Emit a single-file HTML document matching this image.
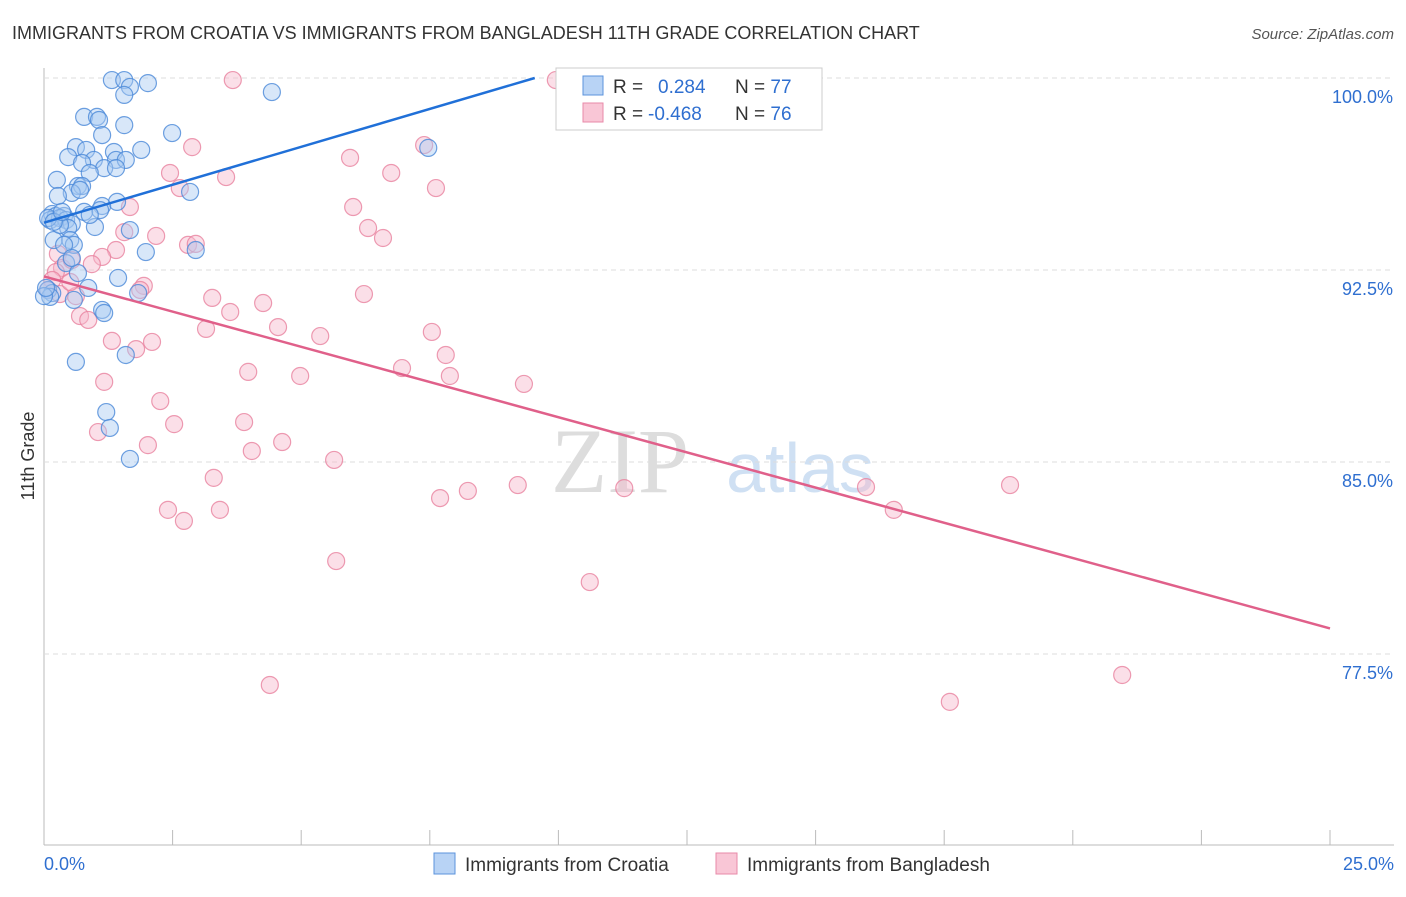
<!DOCTYPE html>
<html><head><meta charset="utf-8"><style>
body{margin:0;background:#fff;font-family:"Liberation Sans",sans-serif}
</style></head><body>
<svg id="c" width="1406" height="892" xmlns="http://www.w3.org/2000/svg" font-family="Liberation Sans, sans-serif">
<text x="12" y="39" font-size="18" fill="#333">IMMIGRANTS FROM CROATIA VS IMMIGRANTS FROM BANGLADESH 11TH GRADE CORRELATION CHART</text>
<text x="1394" y="39" font-size="15" fill="#555" font-style="italic" text-anchor="end">Source: ZipAtlas.com</text>
<text x="34" y="456" font-size="18" fill="#333" transform="rotate(-90 34 456)" text-anchor="middle">11th Grade</text>
<text x="620" y="492" font-size="92" fill="#ddd" font-family="Liberation Serif, serif" text-anchor="middle">ZIP</text>
<text x="800" y="492" font-size="70" fill="#cfe0f3" text-anchor="middle">atlas</text>
<g id="grid"></g><g id="pts"></g><g id="lines"></g>
<g>
<rect x="556" y="68" width="266" height="62" fill="#fff" stroke="#ccc"/>
<rect x="583" y="76" width="20" height="19" fill="#b8d3f5" stroke="#5b93dc"/>
<rect x="583" y="103" width="20" height="19" fill="#f9c6d6" stroke="#e88aa8"/>
<text x="613" y="93" font-size="19" fill="#333">R = <tspan fill="#2f6fd0" x="658">0.284</tspan><tspan fill="#333" x="735">N = </tspan><tspan fill="#2f6fd0">77</tspan></text>
<text x="613" y="120" font-size="19" fill="#333">R = <tspan fill="#2f6fd0" x="648">-0.468</tspan><tspan fill="#333" x="735">N = </tspan><tspan fill="#2f6fd0">76</tspan></text>
</g>
<g>
<rect x="434" y="853" width="21" height="21" fill="#b8d3f5" stroke="#5b93dc"/>
<text x="465" y="871" font-size="19" fill="#333">Immigrants from Croatia</text>
<rect x="716" y="853" width="21" height="21" fill="#f9c6d6" stroke="#e88aa8"/>
<text x="747" y="871" font-size="19" fill="#333">Immigrants from Bangladesh</text>
</g>
<text x="44" y="870" font-size="18" fill="#2f6fd0">0.0%</text>
<text x="1394" y="870" font-size="18" fill="#2f6fd0" text-anchor="end">25.0%</text>
</svg>
<script>
const yTicks=[100,92.5,85,77.5];
const yTickLabels=["100.0%","92.5%","85.0%","77.5%"];
const xTicks=[0,2.5,5,7.5,10,12.5,15,17.5,20,22.5,25];
const bluePx=[[112,80],[124,80],[148,83],[130,87],[124,95],[272,92],[84,117],[97,117],[99,120],[124,125],[172,133],[102,135],[76,147],[86,150],[114,152],[141,150],[68,157],[94,160],[82,163],[116,160],[126,160],[104,168],[116,168],[90,173],[57,180],[78,186],[82,186],[72,193],[190,192],[58,196],[117,202],[102,206],[100,210],[84,212],[52,214],[56,216],[64,216],[50,220],[60,218],[66,220],[72,224],[95,227],[130,230],[68,228],[54,240],[70,240],[74,245],[146,252],[196,250],[428,148],[66,263],[78,273],[118,278],[88,288],[138,293],[48,290],[52,293],[50,297],[74,300],[102,310],[104,313],[126,355],[76,362],[106,412],[110,428],[130,459],[572,80],[64,245],[60,225],[48,218],[54,222],[62,212],[72,258],[44,296],[46,288],[80,190],[90,215]];
const pinkPx=[[233,80],[556,80],[192,147],[424,145],[350,158],[170,173],[391,173],[226,177],[436,188],[180,188],[130,207],[353,207],[368,228],[383,238],[156,236],[124,232],[188,245],[196,244],[116,250],[102,257],[92,264],[58,254],[62,268],[72,260],[56,272],[144,286],[52,280],[48,290],[60,294],[76,296],[364,294],[212,298],[263,303],[230,312],[80,316],[88,320],[278,327],[206,329],[320,336],[432,332],[112,341],[152,342],[136,349],[446,355],[402,368],[248,372],[300,376],[450,376],[524,384],[104,382],[160,401],[174,424],[244,422],[98,432],[282,442],[148,445],[252,451],[334,460],[214,478],[518,485],[468,491],[440,498],[624,488],[866,487],[1010,485],[168,510],[220,510],[184,521],[894,510],[336,561],[590,582],[270,685],[1122,675],[950,702],[140,290],[70,282]];
// convert read pixel estimates to data values (x in %, y in %)
const r2=v=>Math.round(v*100)/100;
const blueX=bluePx.map(p=>r2((p[0]-44)/1286*25)), blueY=bluePx.map(p=>r2(100-(p[1]-78)/25.6));
const pinkX=pinkPx.map(p=>r2((p[0]-44)/1286*25)), pinkY=pinkPx.map(p=>r2(100-(p[1]-78)/25.6));
const blueTrend=[[0,94.35],[9.54,100]];
const pinkTrend=[[0,92.25],[25,78.5]];
const X=v=>44+v/25*1286, Y=v=>78+(100-v)*25.6;
const NS="http://www.w3.org/2000/svg";
function mk(t,a,p){const e=document.createElementNS(NS,t);for(const k in a)e.setAttribute(k,a[k]);p.appendChild(e);return e;}
const g=document.getElementById('grid');
const ax=mk('line',{x1:44,y1:68,x2:44,y2:845,stroke:'#bbb'},g);


const bx=mk('line',{x1:44,y1:845,x2:1394,y2:845,stroke:'#bbb'},g);


yTicks.forEach((t,i)=>{
 const l=mk('line',{x1:44,x2:1394,y1:Y(t),y2:Y(t),stroke:'#ddd','stroke-dasharray':'5,4'},g);
 
 
 const tx=mk('text',{x:1393,y:Y(t)+25,'font-size':18,fill:'#2f6fd0','text-anchor':'end'},g);
 tx.textContent=yTickLabels[i];
 
 
});
xTicks.forEach(t=>{
 const l=mk('line',{x1:X(t),x2:X(t),y1:830,y2:845,stroke:'#bbb'},g);
 
 
});
const P=document.getElementById('pts');
function dots(xs,ys,fill,stroke,name){xs.forEach((x,i)=>{
 const c=mk('circle',{cx:X(x),cy:Y(ys[i]),r:8.5,fill:fill,'fill-opacity':0.45,stroke:stroke,'stroke-opacity':0.8,'stroke-width':1.2},P);
 
 
});}
dots(pinkX,pinkY,'#f7b8cc','#e8829f','point-bangladesh');
dots(blueX,blueY,'#a9c9f2','#4a88d8','point-croatia');
const L=document.getElementById('lines');
const b=mk('line',{x1:X(blueTrend[0][0]),y1:Y(blueTrend[0][1]),x2:X(blueTrend[1][0]),y2:Y(blueTrend[1][1]),stroke:'#2070d8','stroke-width':2.5},L);


const p=mk('line',{x1:X(pinkTrend[0][0]),y1:Y(pinkTrend[0][1]),x2:X(pinkTrend[1][0]),y2:Y(pinkTrend[1][1]),stroke:'#e0608a','stroke-width':2.5},L);


</script>
</body></html>
